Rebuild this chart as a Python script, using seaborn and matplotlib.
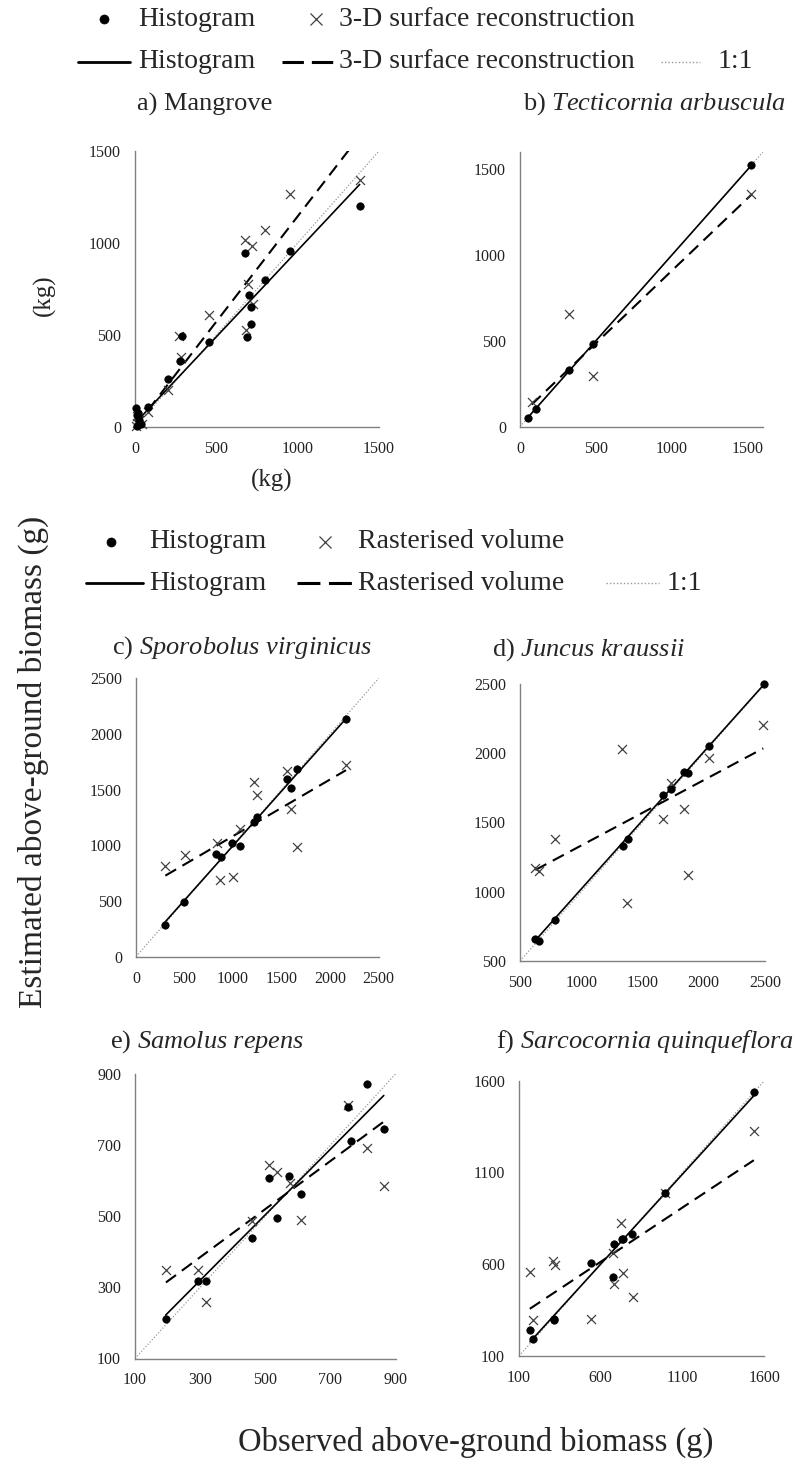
import numpy as np
import pandas as pd
import seaborn as sns
import matplotlib.pyplot as plt
from matplotlib.lines import Line2D

# values (observed, estimated)
a_hist_obs = [1381, 954, 802, 679, 698, 714, 714, 686, 452, 289, 276, 205, 78, 4, 10, 27, 35, 18, 12]
a_hist_est = [1199, 955, 797, 947, 717, 650, 562, 487, 462, 496, 359, 259, 109, 101, 63, 36, 18, 75, 5]
a_surf_obs = [1385, 954, 798, 675, 720, 694, 726, 681, 452, 272, 280, 205, 82, 10, 25, 40, 5, 15]
a_surf_est = [1341, 1268, 1069, 1018, 982, 775, 670, 529, 607, 493, 380, 203, 82, 20, 40, 15, 5, 60]
a_hist_fit = [0.94, 20]
a_surf_fit = [1.145, 0]

b_hist_obs = [1522, 482, 324, 103, 50]
b_hist_est = [1521, 480, 330, 104, 52]
b_surf_obs = [1522, 324, 482, 77]
b_surf_est = [1351, 656, 297, 144]
b_hist_fit = [0.998, 2]
b_surf_fit = [0.845, 64]

c_hist_obs = [2163, 1655, 1552, 1593, 1243, 1216, 1071, 989, 824, 872, 498, 302]
c_hist_est = [2138, 1689, 1593, 1518, 1251, 1213, 994, 1018, 919, 892, 494, 284]
c_rast_obs = [2163, 1552, 1216, 1243, 1593, 1071, 831, 1662, 501, 302, 865, 996]
c_rast_est = [1722, 1671, 1566, 1452, 1326, 1144, 1024, 982, 913, 817, 689, 713]
c_hist_fit = [0.98, 18]
c_rast_fit = [0.509, 574]

d_hist_obs = [2492, 2040, 1871, 1841, 1733, 1667, 1379, 1338, 788, 625, 655]
d_hist_est = [2500, 2052, 1855, 1862, 1744, 1696, 1383, 1330, 795, 660, 645]
d_rast_obs = [2486, 1333, 2040, 1733, 1841, 1667, 788, 625, 658, 1871, 1376]
d_rast_est = [2204, 2033, 1964, 1786, 1601, 1527, 1378, 1168, 1148, 1119, 922]
d_hist_fit = [0.99, 30]
d_rast_fit = [0.472, 862]

e_hist_obs = [814, 755, 764, 864, 573, 512, 610, 536, 459, 292, 318, 194]
e_hist_est = [872, 808, 712, 744, 612, 607, 563, 495, 440, 317, 317, 210]
e_rast_obs = [755, 812, 865, 512, 535, 575, 459, 609, 195, 292, 318]
e_rast_est = [814, 692, 586, 643, 625, 594, 487, 489, 350, 350, 258]
e_hist_fit = [0.922, 43]
e_rast_fit = [0.676, 182]

f_hist_obs = [1536, 993, 793, 738, 730, 680, 542, 672, 312, 316, 168, 186]
f_hist_est = [1539, 987, 765, 740, 735, 708, 605, 533, 303, 294, 240, 190]
f_rast_obs = [1536, 990, 721, 672, 166, 306, 320, 188, 542, 680, 738, 795]
f_rast_est = [1328, 990, 823, 663, 559, 618, 596, 298, 300, 492, 551, 420]
f_hist_fit = [0.98, 13]
f_rast_fit = [0.591, 259]

# axis ranges and ticks
a_lim, a_ticks = [0, 1500], [0, 500, 1000, 1500]
b_lim, b_ticks = [0, 1600], [0, 500, 1000, 1500]
c_lim, c_ticks = [0, 2500], [0, 500, 1000, 1500, 2000, 2500]
d_lim, d_ticks = [500, 2500], [500, 1000, 1500, 2000, 2500]
e_lim, e_ticks = [100, 900], [100, 300, 500, 700, 900]
f_lim, f_ticks = [100, 1600], [100, 600, 1100, 1600]

sns.set_style("white")
plt.rcParams['font.family'] = ['Liberation Serif', 'DejaVu Serif']
plt.rcParams['mathtext.fontset'] = 'custom'
plt.rcParams['mathtext.rm'] = 'Liberation Serif'
plt.rcParams['mathtext.it'] = 'Liberation Serif:italic'

W, H = 807, 1459
fig = plt.figure(figsize=(W / 100, H / 100), dpi=100)


def fx(px):
    return px / W


def fy(py):
    return 1 - py / H


def make_axes(left, top, right, bottom):
    return fig.add_axes([fx(left), fy(bottom), (right - left) / W, (bottom - top) / H])


def panel(ax, hist_obs, hist_est, other_obs, other_est, hist_fit, other_fit, lim, ticks):
    # 1:1 reference
    ax.plot(lim, lim, color='#999999', linestyle=(0, (1, 1.5)), linewidth=0.9, zorder=1)
    # fitted lines over the observed range
    xs = np.array([min(hist_obs), max(hist_obs)])
    ax.plot(xs, hist_fit[0] * xs + hist_fit[1], color='black', linewidth=1.2, zorder=2)
    xs2 = np.array([min(other_obs), max(other_obs)])
    ax.plot(xs2, other_fit[0] * xs2 + other_fit[1], color='black', linewidth=1.5,
            linestyle=(0, (6, 3.5)), zorder=2)
    sns.scatterplot(x=other_obs, y=other_est, marker='x', color='#404040', s=42,
                    linewidth=0.9, ax=ax, zorder=3, clip_on=False)
    sns.scatterplot(x=hist_obs, y=hist_est, marker='o', color='black', s=28,
                    edgecolor='black', linewidth=0.6, ax=ax, zorder=4, clip_on=False)
    ax.set_xlim(lim)
    ax.set_ylim(lim)
    ax.set_xticks(ticks)
    ax.set_yticks(ticks)
    ax.tick_params(labelsize=11.5, colors='#222222', direction='out', length=4,
                   width=0.8, color='#808080', pad=6)
    for s in ['top', 'right']:
        ax.spines[s].set_visible(False)
    for s in ['left', 'bottom']:
        ax.spines[s].set_color('#808080')
        ax.spines[s].set_linewidth(1.0)
    ax.set_xlabel('')
    ax.set_ylabel('')


ax_a = make_axes(135, 151, 379, 427)
panel(ax_a, a_hist_obs, a_hist_est, a_surf_obs, a_surf_est, a_hist_fit, a_surf_fit, a_lim, a_ticks)
ax_b = make_axes(520, 151.7, 763.3, 426.7)
panel(ax_b, b_hist_obs, b_hist_est, b_surf_obs, b_surf_est, b_hist_fit, b_surf_fit, b_lim, b_ticks)
ax_c = make_axes(136, 678.3, 378.7, 956.7)
panel(ax_c, c_hist_obs, c_hist_est, c_rast_obs, c_rast_est, c_hist_fit, c_rast_fit, c_lim, c_ticks)
ax_d = make_axes(520, 684, 765, 961)
panel(ax_d, d_hist_obs, d_hist_est, d_rast_obs, d_rast_est, d_hist_fit, d_rast_fit, d_lim, d_ticks)
ax_e = make_axes(135, 1074, 395.5, 1358.5)
panel(ax_e, e_hist_obs, e_hist_est, e_rast_obs, e_rast_est, e_hist_fit, e_rast_fit, e_lim, e_ticks)
ax_f = make_axes(519, 1080.7, 764.3, 1356)
panel(ax_f, f_hist_obs, f_hist_est, f_rast_obs, f_rast_est, f_hist_fit, f_rast_fit, f_lim, f_ticks)

# panel titles
title_fs = 19
fig.text(fx(137), fy(104), 'a) Mangrove', fontsize=title_fs, va='center')
fig.text(fx(523), fy(104), r'b) $\mathit{Tecticornia\ arbuscula}$', fontsize=title_fs, va='center')
fig.text(fx(112), fy(648), r'c) $\mathit{Sporobolus\ virginicus}$', fontsize=title_fs, va='center')
fig.text(fx(492), fy(650), r'd) $\mathit{Juncus\ kraussii}$', fontsize=title_fs, va='center')
fig.text(fx(110), fy(1042), r'e) $\mathit{Samolus\ repens}$', fontsize=title_fs, va='center')
fig.text(fx(496), fy(1042), r'f) $\mathit{Sarcocornia\ quinqueflora}$', fontsize=title_fs, va='center')

# unit labels for the mangrove panel
fig.text(fx(272), fy(480), '(kg)', fontsize=18, ha='center', va='center')
fig.text(fx(44), fy(295), '(kg)', fontsize=18, ha='center', va='center', rotation=90)

# shared axis labels
fig.text(fx(33), fy(762), 'Estimated above-ground biomass (g)', fontsize=24,
         ha='center', va='center', rotation=90)
fig.text(fx(476), fy(1442), 'Observed above-ground biomass (g)', fontsize=23.5,
         ha='center', va='center')


# hand-built legends
leg_fs = 20


def leg_marker(x, y, marker, size, color, mew):
    fig.add_artist(Line2D([fx(x)], [fy(y)], marker=marker, markersize=size, color=color,
                          markeredgewidth=mew, linestyle='none'))


def leg_line(x0, x1, y, **kw):
    fig.add_artist(Line2D([fx(x0), fx(x1)], [fy(y), fy(y)], **kw))


def leg_text(x, y, s):
    fig.text(fx(x), fy(y), s, fontsize=leg_fs, va='center')


# legend 1 (mangrove / tecticornia)
leg_marker(103.6, 19, 'o', 6.5, 'black', 0.5)
leg_text(138, 19, 'Histogram')
leg_marker(316, 19, 'x', 8, '#404040', 0.9)
leg_text(339, 19, '3-D surface reconstruction')
leg_line(78, 129.5, 62, color='black', linewidth=2.0)
leg_text(138, 62, 'Histogram')
leg_line(282, 333.5, 62, color='black', linewidth=2.2, linestyle=(0, (7, 2.6)))
leg_text(339, 62, '3-D surface reconstruction')
leg_line(661, 700, 62, color='#999999', linewidth=1.0, linestyle=(0, (1, 1.5)))
leg_text(717.6, 62, '1:1')

# legend 2 (herbaceous species)
leg_marker(110.7, 541.7, 'o', 6.5, 'black', 0.5)
leg_text(149, 541.7, 'Histogram')
leg_marker(325, 541.7, 'x', 8, '#404040', 0.9)
leg_text(358, 541.7, 'Rasterised volume')
leg_line(86, 143, 583, color='black', linewidth=2.0)
leg_text(149, 583, 'Histogram')
leg_line(297, 351.5, 583, color='black', linewidth=2.2, linestyle=(0, (7.5, 2.8)))
leg_text(358, 583, 'Rasterised volume')
leg_line(606, 659, 583, color='#999999', linewidth=1.0, linestyle=(0, (1, 1.5)))
leg_text(666.5, 583, '1:1')

fig.savefig('out.png', dpi=100)
